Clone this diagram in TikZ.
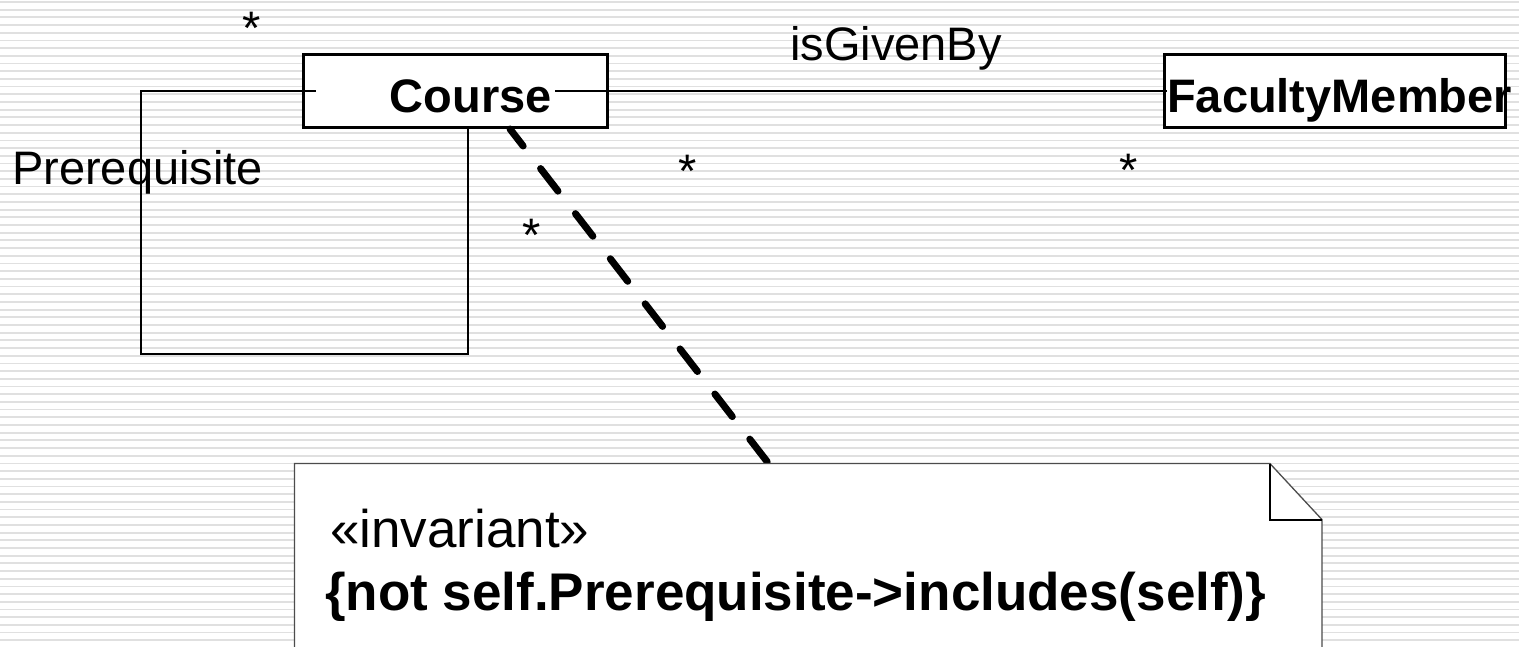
\documentclass[tikz,border=0pt]{standalone}
\usepackage{fontspec}
\setmainfont{Liberation Sans}
\usetikzlibrary{calc}
\begin{document}
\begin{tikzpicture}[x=1pt,y=-1pt,
  stripe/.style={draw=black!12, line width=1.8pt},
  classbox/.style={draw=black, line width=3pt, fill=white, inner sep=0pt},
  classname/.style={font=\fontsize{47}{56}\selectfont\bfseries, inner sep=0pt},
  assoc/.style={draw=black, line width=2pt},
  lbl/.style={font=\fontsize{47}{56}\selectfont, inner sep=0pt},
  notetext/.style={font=\fontsize{53}{64}\selectfont, inner sep=0pt, anchor=base west},
  dashlink/.style={draw=black, line width=7pt, line cap=round,
                   dash pattern=on 28.5pt off 28.5pt, dash phase=7pt},
  noteframe/.style={fill=white, draw=black!70, line width=1.3pt},
  fold/.style={draw=black, line width=2pt}
]
\useasboundingbox (0,0) rectangle (1519,646);
\clip (0,0) rectangle (1519,646);

% striped page background
\fill[white] (0,0) rectangle (1519,646);
\foreach \k in {0,...,83}
  \draw[stripe] (0,{2+7.69*\k}) -- (1519,{2+7.69*\k});

% classes
\node[classbox, minimum width=304pt, minimum height=73pt] (course) at (455.5,91) {};
\node[classbox, minimum width=341pt, minimum height=73pt] (fm) at (1335,91) {};
\node[classname, anchor=base west] (fmname) at (1167,112) {FacultyMember};

% reflexive Prerequisite association
\coordinate (loopbl) at (141,354);
\coordinate (loopbr) at (468,354);
\draw[assoc] (course.center) -| (loopbl) -- (loopbr) -- (loopbr |- course.south);

% isGivenBy association
\draw[assoc] (course.center) -- (course.center -| fmname.west);

\node[classname, fill=white, text width=233pt, align=right,
      inner xsep=3pt, inner ysep=4pt, anchor=base east] (coursename) at (555,112) {Course};

% constraint note attached to Course
\node[minimum width=1027pt, minimum height=300pt, inner sep=0pt,
      anchor=north west] (note) at (294.5,463.5) {};
\coordinate (dashend) at (820,530);
\draw[dashlink] ([xshift=54.5pt]course.south) -- (dashend);

\filldraw[noteframe] (note.north west) -- ([xshift=-52pt]note.north east)
  -- ([yshift=-56pt]note.north east) -- (note.south east) -- (note.south west) -- cycle;
\draw[fold] ([xshift=-52pt]note.north east) |- ([yshift=-56pt]note.north east);

\node[notetext] (stereo) at (330,547) {«invariant»};
\node[notetext, font=\fontsize{53}{64}\selectfont\bfseries] (constraint) at (325,610)
  {\{not self.Prerequisite->includes(self)\}};

% role, association name and multiplicities
\node[lbl, anchor=base west] (role) at (12,184) {Prerequisite};
\node[lbl, anchor=base west] (assocname) at (790,60) {isGivenBy};
\node[lbl, anchor=base] (mult1) at (252,44) {*};
\node[lbl, anchor=base] (mult2) at (688,187) {*};
\node[lbl, anchor=base] (mult3) at (1129,186) {*};
\node[lbl, anchor=base] (mult4) at (532,251) {*};
\end{tikzpicture}
\end{document}
